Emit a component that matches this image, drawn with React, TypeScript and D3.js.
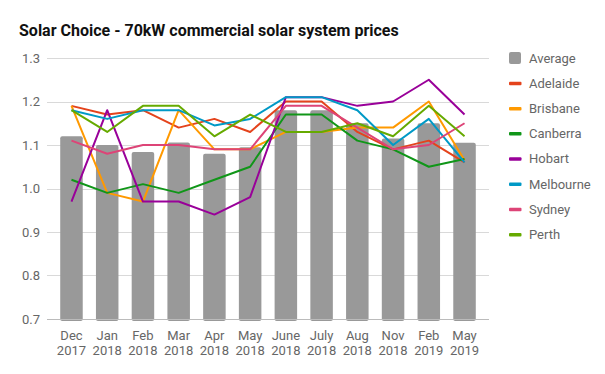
import { useEffect, useRef } from "react";
import * as d3 from "d3";

const months = ["Dec", "Jan", "Feb", "Mar", "Apr", "May", "June", "July", "Aug", "Nov", "Feb", "May"];
const years = ["2017", "2018", "2018", "2018", "2018", "2018", "2018", "2018", "2018", "2018", "2019", "2019"];

const average = [1.12, 1.1, 1.084, 1.106, 1.08, 1.095, 1.18, 1.18, 1.15, 1.115, 1.15, 1.105];

const adelaide = [1.19, 1.17, 1.18, 1.14, 1.16, 1.13, 1.2, 1.2, 1.13, 1.09, 1.11, 1.06];
const brisbane = [1.19, 0.99, 0.97, 1.18, 1.09, 1.09, 1.13, 1.13, 1.14, 1.14, 1.2, 1.065];
const canberra = [1.02, 0.99, 1.01, 0.99, 1.02, 1.05, 1.17, 1.17, 1.11, 1.09, 1.05, 1.068];
const hobart = [0.97, 1.18, 0.97, 0.97, 0.94, 0.98, 1.21, 1.21, 1.19, 1.2, 1.25, 1.17];
const melbourne = [1.18, 1.16, 1.18, 1.18, 1.145, 1.16, 1.21, 1.21, 1.18, 1.1, 1.16, 1.06];
const sydney = [1.11, 1.08, 1.1, 1.1, 1.09, 1.09, 1.19, 1.19, 1.14, 1.09, 1.1, 1.15];
const perth = [1.18, 1.13, 1.19, 1.19, 1.12, 1.17, 1.13, 1.13, 1.15, 1.12, 1.19, 1.12];

const yTicks = [0.7, 0.8, 0.9, 1.0, 1.1, 1.2, 1.3];

const seriesNames = ["Adelaide", "Brisbane", "Canberra", "Hobart", "Melbourne", "Sydney", "Perth"];
const seriesValues = [adelaide, brisbane, canberra, hobart, melbourne, sydney, perth];
const seriesColors = ["#e4431c", "#ff9900", "#109618", "#990099", "#0099c6", "#dd4477", "#66aa00"];

export default function App() {
  const ref = useRef<SVGSVGElement | null>(null);
  const width = 605;
  const height = 374;

  useEffect(() => {
    if (!ref.current) return;
    const svg = d3.select(ref.current);
    svg.selectAll("*").remove();

    const margin = { top: 58, right: 116, bottom: 55, left: 47 };
    const innerW = width - margin.left - margin.right;
    const innerH = height - margin.top - margin.bottom;
    const font = "Roboto, 'Noto Sans', sans-serif";

    svg.append("rect").attr("width", width).attr("height", height).attr("fill", "#fff");

    // Title
    svg
      .append("text")
      .attr("x", 19)
      .attr("y", 35.5)
      .attr("font-family", font)
      .attr("font-weight", "bold")
      .attr("font-size", 16)
      .attr("fill", "#111")
      .text("Solar Choice - 70kW commercial solar system prices");

    const idx = months.map((_, i) => i);
    const x = d3.scaleBand<number>().domain(idx).range([0, innerW]).padding(0.37);
    const y = d3.scaleLinear().domain([0.7, 1.3]).range([innerH, 0]);

    const g = svg.append("g").attr("transform", `translate(${margin.left},${margin.top})`);

    // Gridlines + y labels
    g.selectAll("line.grid")
      .data(yTicks)
      .join("line")
      .attr("class", "grid")
      .attr("x1", 0)
      .attr("x2", innerW)
      .attr("y1", (d) => Math.round(y(d)) + 0.5)
      .attr("y2", (d) => Math.round(y(d)) + 0.5)
      .attr("stroke", (d) => (d === 0.7 ? "#bbb" : "#d9d9d9"))
      .attr("stroke-width", 1);

    g.selectAll("text.ytick")
      .data(yTicks)
      .join("text")
      .attr("class", "ytick")
      .attr("x", -7)
      .attr("y", (d) => y(d) + 4.5)
      .attr("text-anchor", "end")
      .attr("font-family", font)
      .attr("font-size", 13)
      .attr("fill", "#666")
      .text((d) => d3.format(".1f")(d));

    // Bars
    g.selectAll("rect.bar")
      .data(average)
      .join("rect")
      .attr("class", "bar")
      .attr("x", (_, i) => x(i)!)
      .attr("y", (d) => y(d))
      .attr("width", x.bandwidth())
      .attr("height", (d) => innerH - y(d) + 2)
      .attr("rx", 2)
      .attr("fill", "#999999");

    // Lines
    const line = d3
      .line<number>()
      .x((_, i) => x(i)! + x.bandwidth() / 2)
      .y((d) => y(d));

    seriesValues.forEach((vals, s) => {
      g.append("path")
        .datum(vals)
        .attr("d", line)
        .attr("fill", "none")
        .attr("stroke", seriesColors[s])
        .attr("stroke-width", 2)
        .attr("stroke-linejoin", "round");
    });

    // redraw baseline over the bars
    g.append("line")
      .attr("x1", 0)
      .attr("x2", innerW)
      .attr("y1", Math.round(y(0.7)) + 0.5)
      .attr("y2", Math.round(y(0.7)) + 0.5)
      .attr("stroke", "#bbb");

    // X labels
    const xl = g
      .selectAll("text.xtick")
      .data(idx)
      .join("text")
      .attr("class", "xtick")
      .attr("text-anchor", "middle")
      .attr("font-family", font)
      .attr("font-size", 13)
      .attr("fill", "#666");
    xl.append("tspan")
      .attr("x", (i) => x(i)! + x.bandwidth() / 2)
      .attr("y", innerH + 21)
      .text((i) => months[i]);
    xl.append("tspan")
      .attr("x", (i) => x(i)! + x.bandwidth() / 2)
      .attr("y", innerH + 35.5)
      .text((i) => years[i]);

    // Legend
    const legendNames = ["Average", ...seriesNames];
    const legendColors = ["#999999", ...seriesColors];
    const lg = svg.append("g").attr("transform", "translate(509,58)");
    const rowY = (i: number) => i * 25.2;
    legendNames.forEach((name, i) => {
      if (i === 0) {
        lg.append("rect")
          .attr("x", 0)
          .attr("y", rowY(i) - 6)
          .attr("width", 12)
          .attr("height", 12)
          .attr("rx", 2)
          .attr("fill", legendColors[i]);
      } else {
        lg.append("rect")
          .attr("x", 0)
          .attr("y", rowY(i) - 1.5)
          .attr("width", 12.5)
          .attr("height", 3.5)
          .attr("rx", 1)
          .attr("fill", legendColors[i]);
      }
      lg.append("text")
        .attr("x", 20)
        .attr("y", rowY(i) + 4.5)
        .attr("font-family", font)
        .attr("font-size", 13)
        .attr("fill", "#666")
        .text(name);
    });
  }, []);

  return (
    <svg
      ref={ref}
      width={width}
      height={height}
      style={{ position: "absolute", left: 0, top: 0 }}
    />
  );
}
